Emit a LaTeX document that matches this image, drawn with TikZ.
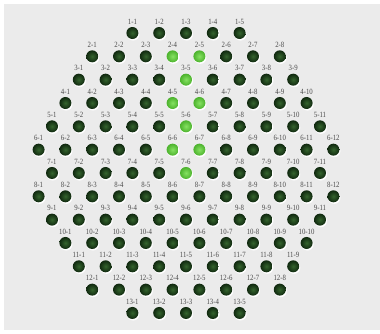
\documentclass[tikz,border=0pt]{standalone}
\usepackage{fontspec}
\setmainfont{Liberation Serif}
\newfontfamily\labfont[FakeStretch=0.85]{Liberation Serif}
\definecolor{bggray}{HTML}{EBEBEB}
\definecolor{dgin}{HTML}{35652E}
\definecolor{dgout}{HTML}{10280F}
\definecolor{lgin}{HTML}{86E262}
\definecolor{lgout}{HTML}{4CB22D}
\definecolor{labgray}{HTML}{4A4A4A}
\begin{document}
\begin{tikzpicture}[x=1pt,y=-1pt,
  dotbase/.style={circle,minimum size=12pt,inner sep=0pt},
  darkdot/.style={dotbase,inner color=dgin,outer color=dgout},
  greendot/.style={dotbase,inner color=lgin,outer color=lgout},
  hilite/.style={dotbase,fill=white,minimum size=12.5pt},
  lab/.style={inner sep=0pt,text=labgray,font=\labfont\fontsize{8}{9}\selectfont}]
\useasboundingbox (0,0) rectangle (380,333);
\fill[white] (0,0) rectangle (380,333);
\fill[bggray] (4,4) rectangle (380,330);
\foreach \r/\n in {1/5,2/8,3/9,4/10,5/11,6/12,7/11,8/12,9/11,10/10,11/9,12/8,13/5}{
  \foreach \j in {1,...,\n}{
    \pgfmathsetmacro\xx{186+(\j-(\n+1)/2)*26.8}
    \pgfmathsetmacro\yy{33+(\r-1)*23.33}
    \pgfmathtruncatemacro\isg{(\r==2)*((\j==4)+(\j==5))+(\r==3)*(\j==5)+(\r==4)*((\j==5)+(\j==6))+(\r==5)*(\j==6)+(\r==6)*((\j==6)+(\j==7))+(\r==7)*(\j==6)}
    \ifnum\isg>0 \def\dstyle{greendot}\else\def\dstyle{darkdot}\fi
    \node[hilite] (h\r-\j) at (\xx+0.8,\yy+1.3) {};
    \node[\dstyle] (d\r-\j) at (\xx,\yy) {};
    \node[lab] (l\r-\j) at (\xx,\yy-11.5) {\r-\j};
  }
}
\end{tikzpicture}
\end{document}
